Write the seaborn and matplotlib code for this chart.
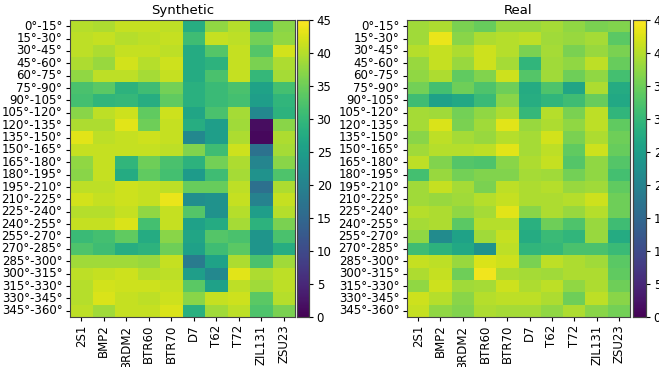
import numpy as np
import pandas as pd
import matplotlib
matplotlib.use('Agg')
import matplotlib.pyplot as plt
import seaborn as sns

# Classes and aspect-angle bins
classes = ['2S1', 'BMP2', 'BRDM2', 'BTR60', 'BTR70', 'D7', 'T62', 'T72', 'ZIL131', 'ZSU23']
angles = ['{}°-{}°'.format(a, a + 15) for a in range(0, 360, 15)]

# Synthetic scores (rows = angle bins, cols = classes)
synthetic = [
    [40.0, 39.5, 41.0, 41.0, 40.5, 28.0, 37.5, 40.0, 30.5, 37.0],
    [40.5, 41.0, 40.0, 40.5, 41.0, 31.0, 41.0, 40.5, 35.5, 37.5],
    [40.5, 39.5, 41.0, 41.0, 40.5, 27.5, 33.0, 41.0, 33.0, 42.0],
    [39.5, 38.0, 42.0, 40.0, 41.5, 27.5, 29.0, 41.0, 36.0, 39.5],
    [37.5, 40.5, 40.5, 39.0, 41.0, 27.5, 32.0, 41.0, 30.0, 39.0],
    [32.0, 33.5, 29.0, 31.0, 35.5, 28.5, 30.5, 32.0, 26.0, 31.5],
    [31.5, 29.5, 30.0, 28.0, 34.0, 28.5, 30.5, 31.5, 25.0, 29.5],
    [37.0, 40.5, 41.5, 34.0, 41.5, 26.5, 32.0, 39.0, 21.0, 29.0],
    [39.5, 39.5, 43.0, 35.0, 41.0, 28.0, 25.0, 38.5, 1.5, 37.0],
    [43.0, 40.5, 41.0, 41.5, 41.0, 21.0, 25.0, 39.5, 1.0, 39.5],
    [41.0, 41.0, 41.0, 41.0, 40.5, 36.5, 31.0, 41.5, 17.0, 39.0],
    [37.5, 41.0, 29.5, 35.0, 32.0, 29.0, 35.5, 39.5, 20.5, 37.0],
    [37.0, 41.0, 27.5, 34.0, 31.5, 24.5, 31.0, 39.0, 23.0, 32.5],
    [40.5, 40.5, 41.5, 41.0, 40.5, 34.5, 34.5, 40.5, 16.5, 39.5],
    [42.0, 41.0, 41.5, 41.0, 43.5, 22.0, 23.0, 41.0, 20.0, 41.0],
    [40.0, 40.0, 41.0, 37.5, 41.0, 33.0, 23.0, 40.0, 25.0, 40.0],
    [41.0, 41.0, 42.5, 31.5, 41.0, 25.5, 27.5, 39.0, 29.0, 36.0],
    [30.5, 31.5, 34.0, 27.5, 37.0, 26.5, 33.0, 32.0, 23.5, 32.0],
    [32.5, 31.0, 28.0, 29.0, 35.0, 25.5, 31.0, 33.5, 23.5, 28.0],
    [38.5, 38.5, 38.5, 38.0, 41.0, 18.5, 26.0, 39.5, 32.0, 38.5],
    [40.5, 41.0, 41.5, 40.0, 40.5, 25.0, 21.0, 43.0, 39.5, 40.5],
    [40.0, 42.0, 41.5, 41.5, 41.0, 33.5, 25.5, 40.5, 38.5, 40.5],
    [40.0, 42.5, 41.0, 40.5, 41.5, 37.0, 41.0, 41.5, 33.5, 40.0],
    [40.5, 38.5, 41.0, 41.0, 42.5, 28.5, 38.5, 40.5, 32.5, 36.0],
]

# Real scores
real = [
    [38.5, 39.5, 36.0, 34.5, 38.0, 38.0, 39.0, 37.5, 36.0, 36.5],
    [38.5, 43.5, 37.0, 39.5, 40.0, 40.5, 38.5, 38.0, 39.0, 33.5],
    [40.0, 41.0, 39.5, 41.5, 40.0, 36.0, 39.0, 36.0, 38.0, 36.0],
    [38.0, 41.0, 38.0, 41.5, 39.0, 29.5, 38.5, 37.5, 40.5, 34.5],
    [37.5, 39.5, 34.0, 36.5, 41.5, 33.0, 38.5, 35.0, 37.5, 31.5],
    [35.5, 31.5, 35.0, 32.5, 35.0, 27.5, 32.5, 26.5, 39.5, 27.5],
    [31.0, 25.5, 27.0, 30.5, 37.0, 28.0, 29.5, 31.0, 34.5, 27.0],
    [39.0, 38.5, 35.5, 37.5, 39.5, 30.0, 40.0, 36.0, 40.5, 29.5],
    [39.0, 42.5, 36.0, 38.5, 43.0, 38.0, 39.5, 37.5, 40.5, 34.0],
    [37.0, 40.5, 39.0, 38.0, 40.0, 39.0, 42.0, 36.0, 39.5, 35.0],
    [38.5, 40.0, 40.0, 40.5, 43.0, 39.0, 40.5, 34.0, 41.5, 34.5],
    [40.5, 36.5, 33.0, 32.5, 37.0, 39.5, 41.0, 33.0, 37.5, 33.0],
    [31.5, 38.0, 35.5, 36.5, 36.5, 39.0, 38.5, 35.5, 37.5, 31.5],
    [38.5, 41.0, 39.0, 36.0, 40.5, 39.5, 40.0, 38.0, 38.5, 34.0],
    [38.5, 38.0, 38.5, 40.0, 41.0, 39.5, 39.5, 40.0, 41.5, 35.0],
    [40.0, 39.5, 37.5, 39.0, 43.0, 37.0, 39.5, 38.0, 40.0, 35.0],
    [39.0, 39.5, 33.5, 40.0, 40.0, 28.5, 35.0, 32.5, 38.0, 31.0],
    [37.5, 21.5, 26.0, 38.5, 41.0, 27.5, 30.5, 29.5, 38.0, 27.5],
    [31.0, 29.0, 27.0, 23.0, 40.5, 29.5, 30.0, 32.0, 32.0, 30.5],
    [41.0, 40.5, 38.0, 42.5, 41.5, 36.0, 40.5, 39.5, 38.5, 33.5],
    [39.5, 41.0, 35.0, 44.0, 39.5, 39.0, 38.5, 39.5, 39.5, 34.0],
    [37.5, 41.5, 38.5, 39.0, 41.5, 39.5, 40.5, 37.5, 39.5, 35.0],
    [41.5, 40.0, 37.0, 40.0, 40.5, 40.5, 39.5, 35.0, 40.5, 37.0],
    [41.0, 37.5, 36.5, 39.5, 39.0, 39.0, 37.5, 39.5, 37.0, 35.5],
]

df_syn = pd.DataFrame(synthetic, index=angles, columns=classes)
df_real = pd.DataFrame(real, index=angles, columns=classes)

W, H = 659, 367
fig = plt.figure(figsize=(W / 100, H / 100), dpi=100)

def box(x0, x1, y0, y1):
    return [x0 / W, 1 - y1 / H, (x1 - x0) / W, (y1 - y0) / H]

panels = [
    (df_syn, 'Synthetic', box(70, 295, 20, 317), box(297, 309, 20, 317)),
    (df_real, 'Real', box(407, 630, 20, 317), box(633, 646, 20, 317)),
]

for df, title, ax_pos, cb_pos in panels:
    ax = fig.add_axes(ax_pos)
    cax = fig.add_axes(cb_pos)
    sns.heatmap(df, ax=ax, cbar_ax=cax, cmap='viridis', vmin=0, vmax=45,
                xticklabels=True, yticklabels=True)
    ax.set_title(title, fontsize=9.5, pad=4)
    ax.tick_params(axis='both', labelsize=8.5, length=3, pad=2.5)
    ax.tick_params(axis='y', labelrotation=0)
    ax.tick_params(axis='x', labelrotation=90)
    for s in ax.spines.values():
        s.set_visible(True)
        s.set_color('#444444')
        s.set_linewidth(0.8)
    cax.set_yticks(range(0, 46, 5))
    cax.tick_params(labelsize=8.5, length=3, pad=2.5)
    for s in cax.spines.values():
        s.set_visible(True)
        s.set_color('#444444')
        s.set_linewidth(0.8)

fig.savefig('out.png', dpi=100)
